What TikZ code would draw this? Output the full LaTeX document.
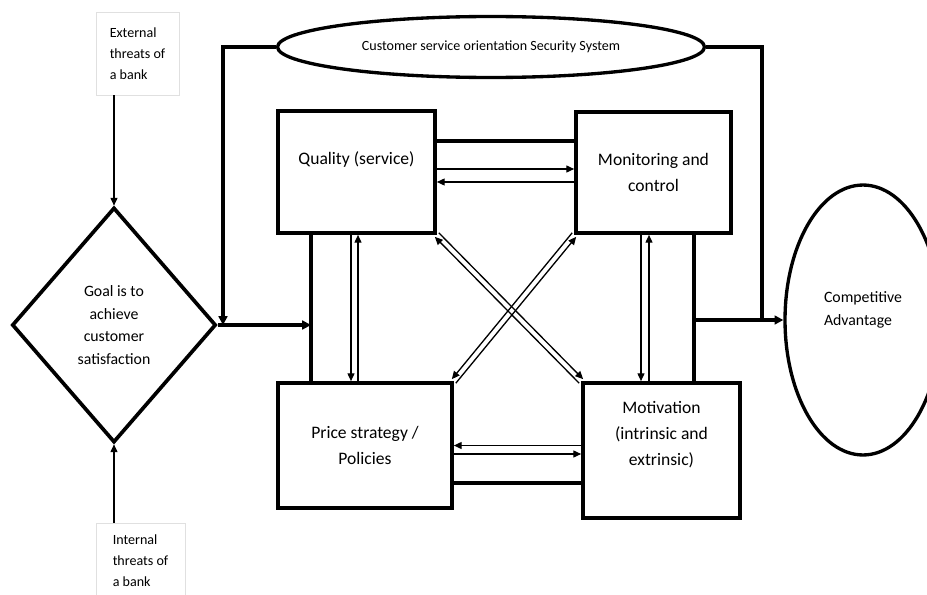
\documentclass[tikz,border=0pt]{standalone}
\usepackage{fontspec}
\setmainfont{Carlito}
\usetikzlibrary{shapes.geometric,arrows.meta}

\begin{document}
\begin{tikzpicture}[x=0.02cm,y=-0.02cm,
        box/.style={draw,rectangle,line width=2.1pt,inner sep=0pt,align=center,font=\fontsize{10}{15}\selectfont},
        threat/.style={draw=black!12,rectangle,line width=0.4pt,inner sep=0pt,align=left,font=\fontsize{8}{12}\selectfont},
        oval/.style={draw,ellipse,line width=1.9pt,inner sep=0pt},
        frame/.style={line width=2.1pt},
        link/.style={line width=0.75pt,-{Triangle[length=4.5pt,width=4pt]}},
        feed/.style={line width=2.1pt,-{Triangle[length=5pt,width=5pt]}}]
    \useasboundingbox (0,0) rectangle (927,595);

    \node[threat,minimum width=1.66cm,minimum height=1.66cm] (ext) at (137.5,53.5) {External\\threats of\\a bank};
    \node[threat,minimum width=1.78cm,minimum height=1.5cm] (int) at (140.5,560.5) {Internal\\threats of\\a bank};
    \node[draw,diamond,line width=2.1pt,minimum width=4.08cm,minimum height=4.7cm,inner sep=0pt,align=center,font=\fontsize{9}{13}\selectfont] (goal) at (114,325) {Goal is to\\achieve\\customer\\satisfaction};
    \node[oval,minimum width=8.54cm,minimum height=1.22cm,font=\fontsize{8}{10}\selectfont] (sec) at (491,47) {Customer service orientation Security System};
    \node[oval,minimum width=3.12cm,minimum height=5.4cm,align=left,font=\fontsize{9}{13.5}\selectfont,text depth=13pt] (ca) at (863,320) {Competitive\\Advantage};

    \node[box,minimum width=3.14cm,minimum height=2.44cm,text depth=16pt] (qual) at (356.5,172) {Quality (service)};
    \node[box,minimum width=3.1cm,minimum height=2.42cm] (mon) at (653.5,172.5) {Monitoring and\\control};
    \node[box,minimum width=3.48cm,minimum height=2.5cm] (price) at (365,445.5) {Price strategy /\\Policies};
    \node[box,minimum width=3.14cm,minimum height=2.7cm,text depth=19.5pt] (motiv) at (661.5,450.5) {Motivation\\(intrinsic and\\extrinsic)};

    % threats into the goal
    \draw[link] (ext.south -| goal.north) -- (goal.north);
    \draw[link] (int.north -| goal.south) -- (goal.south);

    % security system loop and the outer frame
    \coordinate (jl) at (223,325);
    \coordinate (jr) at (762,320);
    \coordinate (lf) at ([xshift=-0.91cm]qual.south);
    \coordinate (rf) at ([xshift=0.81cm]mon.south);
    \draw[feed] (sec.west) -| (jl);
    \draw[frame] (sec.east) -| (jr);
    \draw[feed] (goal.east) -- (goal.east -| lf);
    \draw[frame] (lf) -- (lf |- price.north);
    \draw[frame] (rf) -- (rf |- motiv.north);
    \draw[feed] (rf |- ca.west) -- (ca.west);
    \draw[frame] ([yshift=0.62cm]qual.east) -- ([yshift=0.62cm]qual.east -| mon.west);
    \draw[frame] ([yshift=-0.75cm]price.east) -- ([yshift=-0.75cm]price.east -| motiv.west);

    % two-way links between the four boxes
    \draw[link] ([yshift=0.06cm]qual.east) -- ([yshift=0.06cm]qual.east -| mon.west);
    \draw[link] ([yshift=-0.19cm]mon.west) -- ([yshift=-0.19cm]mon.west -| qual.east);
    \draw[link] ([xshift=-0.11cm]qual.south) -- ([xshift=-0.11cm]qual.south |- price.north);
    \draw[link] ([xshift=0.03cm]qual.south |- price.north) -- ([xshift=0.03cm]qual.south);
    \draw[link] ([xshift=-0.25cm]mon.south) -- ([xshift=-0.25cm]mon.south |- motiv.north);
    \draw[link] ([xshift=-0.09cm]mon.south |- motiv.north) -- ([xshift=-0.09cm]mon.south);
    \draw[link] (price.east -| motiv.west) -- (price.east);
    \draw[link] ([yshift=-0.17cm]price.east) -- ([yshift=-0.17cm]price.east -| motiv.west);
    \draw[link] ([shift={(-2,2)}]motiv.north west) -- ([shift={(-2,2)}]qual.south east);
    \draw[link] ([shift={(2,-2)}]qual.south east) -- ([shift={(2,-2)}]motiv.north west);
    \draw[link] ([shift={(2,2)}]price.north east) -- ([shift={(2,2)}]mon.south west);
    \draw[link] ([shift={(-2,-2)}]mon.south west) -- ([shift={(-2,-2)}]price.north east);
\end{tikzpicture}
\end{document}
